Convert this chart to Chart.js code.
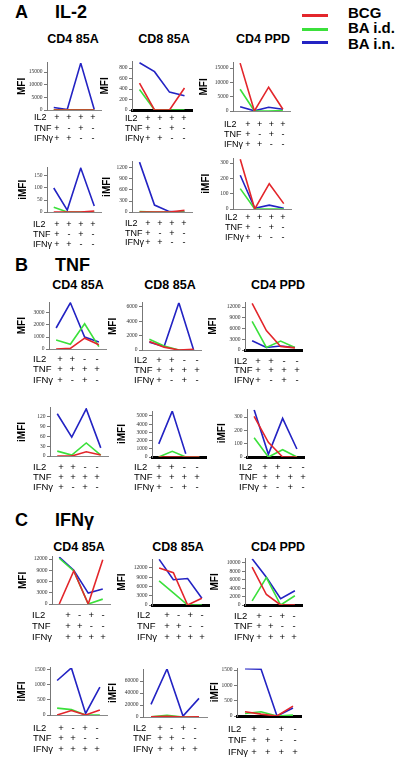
<!DOCTYPE html>
<html>
<head>
<meta charset="utf-8">
<script src="https://cdn.jsdelivr.net/npm/chart.js@4.4.1/dist/chart.umd.min.js"></script>
<style>
body{margin:0;background:#fff;width:400px;height:762px;position:relative;overflow:hidden;font-family:"Liberation Sans",Arial,sans-serif;}
.t{position:absolute;white-space:nowrap;font-weight:bold;color:#000;}
.sec{font-size:18px;line-height:18px;}
.ttl{font-size:12.5px;line-height:13px;transform:translateX(-50%);}
.lg{font-size:15px;line-height:15px;left:348px;}
.ln{position:absolute;left:302px;width:26px;height:3px;}
canvas{position:absolute;}
</style>
</head>
<body>
<div class="t sec" style="left:15px;top:3px">A</div>
<div class="t sec" style="left:55px;top:3px">IL-2</div>
<div class="t sec" style="left:15px;top:256px">B</div>
<div class="t sec" style="left:55px;top:256px">TNF</div>
<div class="t sec" style="left:15px;top:511px">C</div>
<div class="t sec" style="left:55px;top:511px">IFNγ</div>

<div class="ln" style="top:14px;background:#e3262b"></div>
<div class="ln" style="top:28px;background:#3be03b"></div>
<div class="ln" style="top:41px;background:#2323c3"></div>
<div class="t lg" style="top:5px">BCG</div>
<div class="t lg" style="top:20px">BA i.d.</div>
<div class="t lg" style="top:36px">BA i.n.</div>

<div class="t ttl" style="left:73px;top:33px">CD4 85A</div>
<div class="t ttl" style="left:164px;top:33px">CD8 85A</div>
<div class="t ttl" style="left:263px;top:33px">CD4 PPD</div>
<div class="t ttl" style="left:78px;top:279px">CD4 85A</div>
<div class="t ttl" style="left:170px;top:279px">CD8 85A</div>
<div class="t ttl" style="left:278px;top:279px">CD4 PPD</div>
<div class="t ttl" style="left:79px;top:541px">CD4 85A</div>
<div class="t ttl" style="left:178px;top:541px">CD8 85A</div>
<div class="t ttl" style="left:278px;top:541px">CD4 PPD</div>

<script>
const seriesNames = ['BCG', 'BA i.d.', 'BA i.n.'];
const seriesColors = ['#e3262b', '#3be03b', '#2323c3'];
const rowNames = ['IL2', 'TNF', 'IFNγ'];

// +/- rows under the charts (IL2, TNF, IFNγ)
const signsA = [['+','+','+','+'], ['+','-','+','-'], ['+','+','-','-']];
const signsB = [['+','+','-','-'], ['+','+','+','+'], ['+','-','+','-']];
const signsC = [['+','-','+','-'], ['+','+','-','-'], ['+','+','+','+']];

// values per panel: [BCG, BA i.d., BA i.n.]
const il2_cd4_85a_mfi = [[0,0,0,0], [100,50,50,100], [1000,200,18500,200]];
const il2_cd8_85a_mfi = [[510,0,0,420], [390,0,0,0], [900,730,340,270]];
const il2_cd4_ppd_mfi = [[16700,0,8300,600], [7600,0,0,200], [1500,50,1300,600]];
const il2_cd4_85a_imfi = [[0,0,0,4], [20,0,0,0], [100,8,183,25]];
const il2_cd8_85a_imfi = [[0,0,0,45], [10,0,0,0], [1360,190,10,0]];
const il2_cd4_ppd_imfi = [[325,0,165,35], [133,0,0,0], [220,5,25,5]];

const tnf_cd4_85a_mfi = [[0,50,900,350], [750,400,2100,200], [1750,3850,1000,580]];
const tnf_cd8_85a_mfi = [[1200,400,0,100], [1500,550,0,0], [1100,500,6600,0]];
const tnf_cd4_ppd_mfi = [[13000,5400,1000,600], [8000,700,2500,700], [2600,700,1100,700]];
const tnf_cd4_85a_imfi = [[0,0,13,3], [15,3,40,3], [130,58,145,25]];
const tnf_cd8_85a_imfi = [[0,0,0,0], [0,700,0,0], [1600,5600,400,null]];
const tnf_cd4_ppd_imfi = [[305,110,0,0], [145,0,55,0], [355,20,290,60]];

const ifng_cd4_85a_mfi = [[0,8800,0,11800], [12200,8800,0,1300], [12500,9000,2900,4000]];
const ifng_cd8_85a_mfi = [[12000,10500,0,2200], [7800,3900,0,0], [14800,8200,8600,2200]];
const ifng_cd4_ppd_mfi = [[9000,2500,0,0], [1000,6500,0,2200], [11000,6600,1500,3400]];
const ifng_cd4_85a_imfi = [[0,150,0,170], [230,180,0,0], [1150,1570,50,930]];
const ifng_cd8_85a_imfi = [[300,1000,0,300], [500,3000,0,0], [21000,80000,1500,31000]];
const ifng_cd4_ppd_imfi = [[140,60,0,320], [80,140,0,30], [1540,1530,0,260]];

// y tick labels
const il2_cd4_85a_mfi_ticks = [0,5000,10000,15000];
const il2_cd8_85a_mfi_ticks = [0,200,400,600,800];
const il2_cd4_ppd_mfi_ticks = [0,5000,10000,15000];
const il2_cd4_85a_imfi_ticks = [0,50,100,150];
const il2_cd8_85a_imfi_ticks = [0,300,600,900,1200];
const il2_cd4_ppd_imfi_ticks = [0,100,200,300];
const tnf_cd4_85a_mfi_ticks = [0,1000,2000,3000];
const tnf_cd8_85a_mfi_ticks = [0,2000,4000,6000];
const tnf_cd4_ppd_mfi_ticks = [0,3000,6000,9000,12000];
const tnf_cd4_85a_imfi_ticks = [0,30,60,90,120];
const tnf_cd8_85a_imfi_ticks = [0,1000,2000,3000,4000,5000];
const tnf_cd4_ppd_imfi_ticks = [0,100,200,300];
const ifng_cd4_85a_mfi_ticks = [0,3000,6000,9000,12000];
const ifng_cd8_85a_mfi_ticks = [0,3000,6000,9000,12000];
const ifng_cd4_ppd_mfi_ticks = [0,2000,4000,6000,8000,10000];
const ifng_cd4_85a_imfi_ticks = [0,500,1000,1500];
const ifng_cd8_85a_imfi_ticks = [0,20000,40000,60000];
const ifng_cd4_ppd_imfi_ticks = [0,500,1000,1500];

// placement of each small chart on the page (l1/l4: first and last +/- column)
const panels = [
  {data: il2_cd4_85a_mfi, ticks: il2_cd4_85a_mfi_ticks, signs: signsA, t:'MFI', ax:47, right:101, bottom:110, tickY:72, max:18600, row1:118, lh:10.5, rowX:34, titleX:22, fs:9, l1:57, l4:93},
  {data: il2_cd8_85a_mfi, ticks: il2_cd8_85a_mfi_ticks, signs: signsA, t:'MFI', ax:132, right:192, bottom:110, tickY:68, max:920, row1:119, lh:10, rowX:125, titleX:105, fs:9, l1:148, l4:184, thick:true},
  {data: il2_cd4_ppd_mfi, ticks: il2_cd4_ppd_mfi_ticks, signs: signsA, t:'MFI', ax:233, right:290, bottom:111, tickY:68, max:16800, row1:125, lh:10, rowX:224, titleX:204, fs:9, l1:248, l4:283},
  {data: il2_cd4_85a_imfi, ticks: il2_cd4_85a_imfi_ticks, signs: signsA, t:'iMFI', ax:47, right:101, bottom:212, tickY:176, max:185, row1:225, lh:10, rowX:33, titleX:23, fs:9, l1:57, l4:93},
  {data: il2_cd8_85a_imfi, ticks: il2_cd8_85a_imfi_ticks, signs: signsA, t:'iMFI', ax:132, right:192, bottom:212, tickY:168, max:1370, row1:224, lh:9.5, rowX:125, titleX:107, fs:9, l1:148, l4:184},
  {data: il2_cd4_ppd_imfi, ticks: il2_cd4_ppd_imfi_ticks, signs: signsA, t:'iMFI', ax:233, right:291, bottom:209, tickY:163, max:330, row1:218, lh:10, rowX:225, titleX:206, fs:9, l1:248, l4:283},

  {data: tnf_cd4_85a_mfi, ticks: tnf_cd4_85a_mfi_ticks, signs: signsB, t:'MFI', ax:49, right:106, bottom:349, tickY:313, max:3900, row1:359, lh:10.5, rowX:33, titleX:22, fs:9.5, l1:60, l4:97},
  {data: tnf_cd8_85a_mfi, ticks: tnf_cd8_85a_mfi_ticks, signs: signsB, t:'MFI', ax:142, right:201, bottom:350, tickY:307, max:6600, row1:360, lh:10, rowX:134, titleX:113, fs:9.5, l1:159, l4:197},
  {data: tnf_cd4_ppd_mfi, ticks: tnf_cd4_ppd_mfi_ticks, signs: signsB, t:'MFI', ax:245, right:302, bottom:350, tickY:307, max:13300, row1:361, lh:9.5, rowX:234, titleX:213, fs:9.5, l1:258, l4:297, thick:true},
  {data: tnf_cd4_85a_imfi, ticks: tnf_cd4_85a_imfi_ticks, signs: signsB, t:'iMFI', ax:50, right:108, bottom:456, tickY:417, max:148, row1:467, lh:10, rowX:33, titleX:22, fs:9.5, l1:61, l4:97},
  {data: tnf_cd8_85a_imfi, ticks: tnf_cd8_85a_imfi_ticks, signs: signsB, t:'iMFI', ax:152, right:206, bottom:457, tickY:416, max:5600, row1:467, lh:10, rowX:134, titleX:122, fs:9.5, l1:159, l4:197, thick:true},
  {data: tnf_cd4_ppd_imfi, ticks: tnf_cd4_ppd_imfi_ticks, signs: signsB, t:'iMFI', ax:247, right:304, bottom:457, tickY:417, max:355, row1:467, lh:10, rowX:239, titleX:222, fs:9.5, l1:265, l4:303, thick:true},

  {data: ifng_cd4_85a_mfi, ticks: ifng_cd4_85a_mfi_ticks, signs: signsC, t:'MFI', ax:52, right:110, bottom:604, tickY:559, max:12600, row1:615, lh:11, rowX:32, titleX:23, fs:9.5, l1:68, l4:103},
  {data: ifng_cd8_85a_mfi, ticks: ifng_cd8_85a_mfi_ticks, signs: signsC, t:'MFI', ax:152, right:209, bottom:605, tickY:568, max:14900, row1:615, lh:11, rowX:137, titleX:122, fs:9.5, l1:167, l4:202, thick:true},
  {data: ifng_cd4_ppd_mfi, ticks: ifng_cd4_ppd_mfi_ticks, signs: signsC, t:'MFI', ax:245, right:302, bottom:605, tickY:563, max:11000, row1:616, lh:10.5, rowX:234, titleX:215, fs:9.5, l1:259, l4:294, thick:true},
  {data: ifng_cd4_85a_imfi, ticks: ifng_cd4_85a_imfi_ticks, signs: signsC, t:'iMFI', ax:50, right:107, bottom:715, tickY:670, max:1570, row1:728, lh:10.5, rowX:33, titleX:22, fs:9.5, l1:61, l4:97},
  {data: ifng_cd8_85a_imfi, ticks: ifng_cd8_85a_imfi_ticks, signs: signsC, t:'iMFI', ax:143, right:207, bottom:717, tickY:681, max:80000, row1:728, lh:10.5, rowX:133, titleX:113, fs:9.5, l1:160, l4:195},
  {data: ifng_cd4_ppd_imfi, ticks: ifng_cd4_ppd_imfi_ticks, signs: signsC, t:'iMFI', ax:237, right:301, bottom:716, tickY:670, max:1550, row1:729, lh:11.5, rowX:228, titleX:215, fs:9.5, l1:254, l4:295, thick:true}
];

function drawPanel(p) {
  const lh = p.lh, fs = p.fs;
  const top = p.bottom - (p.bottom - p.tickY) * p.max / p.ticks[p.ticks.length - 1];
  const x0 = Math.min(p.rowX, p.titleX - 6) - 3;
  const y0 = Math.floor(top) - 6;
  const x1 = Math.max(p.right, p.l4 + 4) + 8;
  const pad = p.row1 - p.bottom - lh / 2;
  const xH = pad + 3 * lh + 2;
  const yW = p.ax - (p.titleX - 5);
  const cv = document.createElement('canvas');
  cv.width = x1 - x0;
  cv.height = Math.ceil(p.bottom + xH + 3 - y0);
  cv.style.left = x0 + 'px';
  cv.style.top = y0 + 'px';
  document.body.appendChild(cv);

  const cols = [0, 1, 2, 3].map(i => p.signs.map(r => r[i]));
  // range of the label axis so the +/- columns sit where the figure has them
  const w = p.right - p.ax;
  const span = 3 * w / (p.l4 - p.l1);
  const lmin = -(p.l1 - p.ax) / w * span;

  new Chart(cv, {
    type: 'line',
    data: {
      labels: cols.map((c, i) => i),
      datasets: p.data.map((v, k) => ({
        label: seriesNames[k],
        data: v,
        borderColor: seriesColors[k],
        backgroundColor: seriesColors[k],
        borderWidth: 1.6,
        pointRadius: 0,
        tension: 0,
        fill: false
      }))
    },
    options: {
      responsive: false,
      animation: false,
      devicePixelRatio: 1,
      layout: {padding: {left: p.titleX - 5 - x0, top: top - y0, right: x1 - p.right, bottom: cv.height - (p.bottom - y0) - xH}},
      plugins: {legend: {display: false}, tooltip: {enabled: false}},
      scales: {
        x: {
          type: 'category',
          offset: true,
          weight: 0,
          z: p.thick ? 1 : 0,
          grid: {display: false, drawTicks: false},
          border: {display: true, color: p.thick ? '#000' : '#888', width: p.thick ? 3 : 1},
          ticks: {display: false},
          afterFit: s => { s.height = 0; }
        },
        xl: {
          type: 'linear',
          position: 'bottom',
          weight: 1,
          min: lmin,
          max: lmin + span,
          afterBuildTicks: s => { s.ticks = cols.map((c, i) => ({value: i})); },
          grid: {display: false, drawTicks: false},
          border: {display: false},
          ticks: {autoSkip: false, maxRotation: 0, padding: pad, color: '#000',
                  font: {family: 'Liberation Sans', size: fs, lineHeight: lh / fs},
                  callback: v => cols[v]},
          afterFit: s => { s.height = xH; }
        },
        y: {
          type: 'linear',
          min: 0,
          max: p.max,
          afterBuildTicks: s => { s.ticks = p.ticks.map(v => ({value: v})); },
          grid: {drawOnChartArea: false, drawTicks: true, tickLength: 3, color: '#777'},
          border: {color: '#777', width: 1},
          ticks: {autoSkip: false, padding: 1.5, color: '#333',
                  font: {family: 'Liberation Serif', size: 5.5},
                  callback: v => String(v)},
          title: {display: true, text: p.t, padding: 0, color: '#000',
                  font: {family: 'Liberation Sans', size: 10, weight: 'bold', lineHeight: 1}},
          afterFit: s => { s.width = yW; }
        }
      }
    },
    plugins: [{
      id: 'rowNames',
      afterDraw(chart) {
        const ctx = chart.ctx, xs = chart.scales.xl;
        ctx.save();
        ctx.font = fs + 'px "Liberation Sans"';
        ctx.fillStyle = '#000';
        ctx.textAlign = 'left';
        ctx.textBaseline = 'middle';
        rowNames.forEach((n, i) => ctx.fillText(n, p.rowX - x0, xs.top + pad + lh * (i + 0.5)));
        ctx.restore();
      }
    }]
  });
}

panels.forEach(drawPanel);
</script>
</body>
</html>
